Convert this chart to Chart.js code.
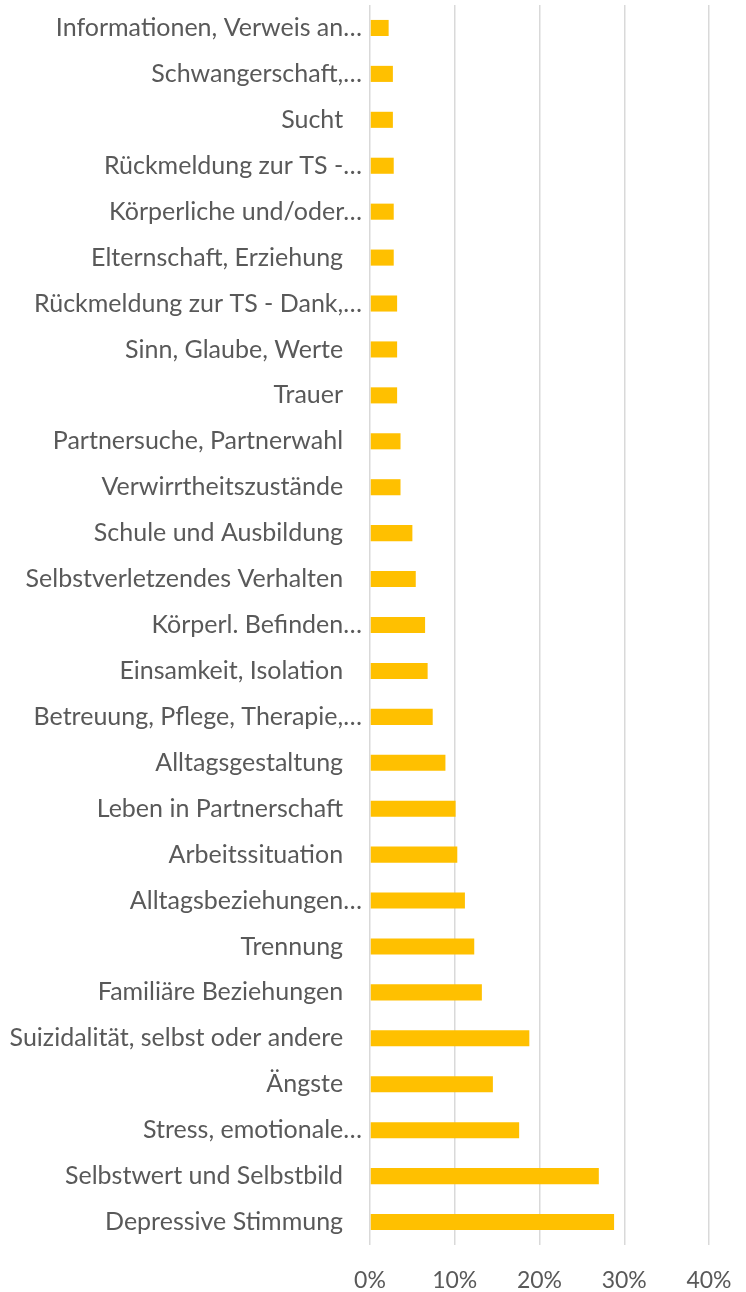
<!DOCTYPE html>
<html>
<head>
<meta charset="utf-8">
<script src="https://cdn.jsdelivr.net/npm/chart.js@4"></script>
<style>
  html, body { margin: 0; padding: 0; background: #fff; }
  #wrap { width: 746px; height: 1292px; position: relative; }
</style>
</head>
<body>
<div id="wrap"><canvas id="chart"></canvas></div>
<script>
// ── Daten ─────────────────────────────────────────────────────────────────────
const THEMEN = [
  'Informationen, Verweis an…',
  'Schwangerschaft,…',
  'Sucht',
  'Rückmeldung zur TS -…',
  'Körperliche und/oder…',
  'Elternschaft, Erziehung',
  'Rückmeldung zur TS - Dank,…',
  'Sinn, Glaube, Werte',
  'Trauer',
  'Partnersuche, Partnerwahl',
  'Verwirrtheitszustände',
  'Schule und Ausbildung',
  'Selbstverletzendes Verhalten',
  'Körperl. Befinden…',
  'Einsamkeit, Isolation',
  'Betreuung, Pflege, Therapie,…',
  'Alltagsgestaltung',
  'Leben in Partnerschaft',
  'Arbeitssituation',
  'Alltagsbeziehungen…',
  'Trennung',
  'Familiäre Beziehungen',
  'Suizidalität, selbst oder andere',
  'Ängste',
  'Stress, emotionale…',
  'Selbstwert und Selbstbild',
  'Depressive Stimmung',
];

// Anteile in Prozent
const ANTEILE = [
  2.2, 2.7, 2.7, 2.8, 2.8, 2.8, 3.2, 3.2, 3.2, 3.6, 3.6,
  5.0, 5.4, 6.5, 6.8, 7.4, 8.9, 10.1, 10.3, 11.2,
  12.3, 13.2, 18.8, 14.5, 17.6, 27.0, 28.8,
];

const X_TICKS = [0, 10, 20, 30, 40];

const FONT = "Lato, 'Open Sans', sans-serif";
const GREY = '#595959';

// Excel-Labels ohne "…" haben ein nachgestelltes Leerzeichen
const labelText = (s) => (s.endsWith('…') ? s : s + '\u2002 ');

// ── Diagramm ──────────────────────────────────────────────────────────────────
new Chart(document.getElementById('chart'), {
  type: 'bar',
  data: {
    labels: THEMEN,
    datasets: [{
      data: ANTEILE,
      backgroundColor: '#FFC000',
      borderWidth: 0,
      barPercentage: 0.7,
      categoryPercentage: 0.5,
    }],
  },
  options: {
    indexAxis: 'y',
    responsive: true,
    maintainAspectRatio: false,
    animation: false,
    layout: { padding: { top: 5, right: 37, left: 0, bottom: 0 } },
    plugins: {
      legend: { display: false },
      tooltip: { enabled: false },
    },
    scales: {
      x: {
        min: 0,
        max: 40,
        afterBuildTicks: (scale) => { scale.ticks = X_TICKS.map(v => ({ value: v })); },
        afterFit: (scale) => {
          scale.height = 47;
          scale.paddingLeft = 0;
          scale.paddingRight = 0;
        },
        ticks: {
          color: GREY,
          font: { family: FONT, size: 23 },
          padding: 22,
          callback: (v) => v + '%',
        },
        grid: { color: '#d9d9d9', lineWidth: 1.5, drawTicks: false },
        border: { display: false },
      },
      y: {
        afterFit: (scale) => {
          scale.width = 370;
          scale.paddingTop = 0;
          scale.paddingBottom = 0;
        },
        ticks: {
          color: GREY,
          font: { family: FONT, size: 25 },
          padding: 8,
          autoSkip: false,
          callback: function (v) { return labelText(this.getLabelForValue(v)); },
        },
        grid: { display: false, drawTicks: false },
        border: { display: false },
      },
    },
  },
});
</script>
</body>
</html>
